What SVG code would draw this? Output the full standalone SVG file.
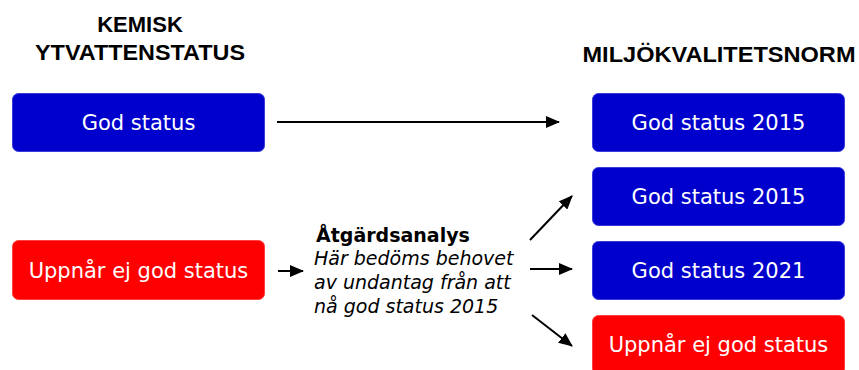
<svg xmlns="http://www.w3.org/2000/svg" width="859" height="370" viewBox="0 0 859 370">
  <defs>
    <marker id="arrow" markerWidth="14" markerHeight="12" refX="13" refY="6" orient="auto" markerUnits="userSpaceOnUse">
      <path d="M0,0 L14,6 L0,12 Z" fill="#000"/>
    </marker>
    <style>
      .head { font-family: "Liberation Sans", Arial, sans-serif; font-weight: bold; font-size: 22px; fill: #000; text-anchor: middle; }
      .blue { fill: #0000CC; stroke: #3a3ad8; stroke-width: 1; }
      .red { fill: #FF0000; stroke: #ff4040; stroke-width: 1; }
      .label { font-family: "DejaVu Sans", Verdana, sans-serif; font-size: 21px; fill: #fff; text-anchor: middle; }
      .conn line { stroke: #000; stroke-width: 2; marker-end: url(#arrow); }
      .note { font-family: "DejaVu Sans", Verdana, sans-serif; font-size: 19px; fill: #000; }
    </style>
  </defs>
  <rect width="859" height="370" fill="#fff"/>

  <!-- column headings -->
  <text class="head" x="140" y="32">KEMISK</text>
  <text class="head" x="140" y="60" textLength="210" lengthAdjust="spacingAndGlyphs">YTVATTENSTATUS</text>
  <text class="head" x="719" y="62" textLength="273" lengthAdjust="spacingAndGlyphs">MILJÖKVALITETSNORM</text>

  <!-- left column -->
  <g id="kemisk-god">
    <rect class="blue" x="12.5" y="93.5" width="252" height="58" rx="6"/>
    <text class="label" x="138.5" y="130">God status</text>
  </g>
  <g id="kemisk-ej-god">
    <rect class="red" x="12.5" y="240.5" width="252" height="59" rx="6"/>
    <text class="label" x="138.5" y="278">Uppnår ej god status</text>
  </g>

  <!-- analysis step -->
  <g id="atgardsanalys">
    <text class="note" x="316" y="242" font-weight="bold">Åtgärdsanalys</text>
    <text class="note" x="314" y="265" font-style="italic">Här bedöms behovet</text>
    <text class="note" x="314" y="289" font-style="italic">av undantag från att</text>
    <text class="note" x="314" y="313" font-style="italic">nå god status 2015</text>
  </g>

  <!-- right column -->
  <g id="mkn-god-2015-a">
    <rect class="blue" x="592.5" y="93.5" width="252" height="58" rx="6"/>
    <text class="label" x="718.5" y="130">God status 2015</text>
  </g>
  <g id="mkn-god-2015-b">
    <rect class="blue" x="592.5" y="167.5" width="252" height="58" rx="6"/>
    <text class="label" x="718.5" y="204">God status 2015</text>
  </g>
  <g id="mkn-god-2021">
    <rect class="blue" x="592.5" y="241.5" width="252" height="58" rx="6"/>
    <text class="label" x="718.5" y="278">God status 2021</text>
  </g>
  <g id="mkn-ej-god">
    <rect class="red" x="592.5" y="315.5" width="252" height="60" rx="6"/>
    <text class="label" x="718.5" y="352">Uppnår ej god status</text>
  </g>

  <!-- connectors -->
  <g id="connectors" class="conn">
    <line x1="277" y1="122" x2="559" y2="122"/>
    <line x1="278" y1="271" x2="303" y2="271"/>
    <line x1="530" y1="240" x2="572" y2="196"/>
    <line x1="530" y1="269" x2="572" y2="269"/>
    <line x1="532" y1="315" x2="572" y2="346"/>
  </g>
</svg>
